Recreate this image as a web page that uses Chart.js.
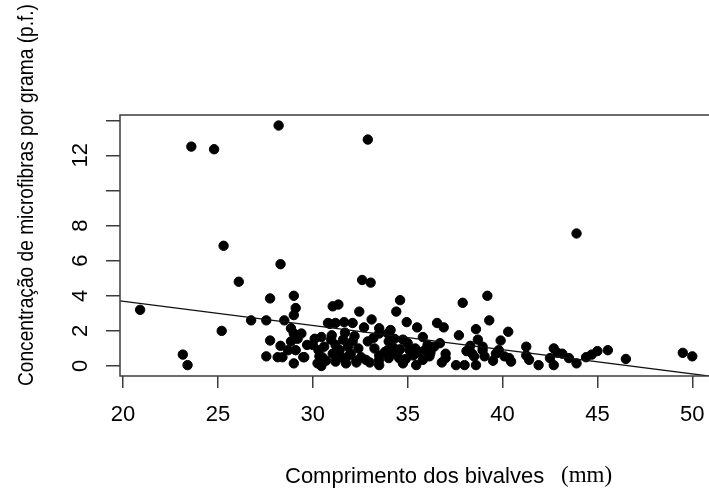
<!DOCTYPE html>
<html>
<head>
<meta charset="utf-8">
<script src="https://cdn.jsdelivr.net/npm/chart.js@4/dist/chart.umd.min.js"></script>
<style>
  html, body { margin: 0; padding: 0; background: #fff; overflow: hidden; }
  #wrap { width: 720px; height: 493px; }
</style>
</head>
<body>
<div id="wrap"><canvas id="c" width="720" height="493"></canvas></div>
<script>
// ---- data ----
const lengthMM = [
  20.9, 23.15, 23.4, 23.6, 24.8, 25.3, 25.2, 26.1, 26.75, 27.55,
  27.75, 27.75, 27.55, 28.15, 28.4, 28.2, 28.3, 28.5, 28.3, 28.85,
  28.85, 28.7, 29.0, 29.1, 29.0, 29.0, 29.2, 29.1, 29.0, 29.4,
  29.5, 30.0, 30.1, 30.45, 30.5, 30.25, 30.45, 30.6, 30.8, 31.0,
  31.05, 31.35, 31.2, 31.65, 32.1, 30.97, 31.2, 31.05, 31.2, 31.5,
  31.6, 31.75, 31.85, 32.0, 32.1, 32.4, 32.45, 32.55, 32.6, 32.7,
  32.8, 32.9, 33.05, 33.1, 33.25, 33.5, 33.5, 33.5, 33.5, 33.5,
  33.8, 33.95, 33.95, 34.0, 34.0, 34.1, 34.3, 34.3, 34.4, 34.55,
  34.6, 34.75, 34.75, 34.95, 35.1, 35.3, 35.45, 35.5, 35.6, 35.8,
  35.8, 36.05, 36.15, 36.2, 36.4, 36.55, 36.9, 37.0, 37.0, 37.55,
  37.7, 37.9, 38.0, 38.1, 38.3, 38.4, 38.5, 38.6, 38.6, 38.7,
  38.95, 38.95, 39.05, 39.2, 39.3, 39.5, 39.65, 39.8, 39.9, 40.1,
  40.3, 40.35, 40.45, 41.25, 41.25, 41.4, 41.9, 42.5, 42.7, 42.9,
  42.7, 43.15, 43.5, 43.9, 43.9, 44.4, 44.7, 45.0, 45.55, 46.5,
  49.5, 50.0, 30.35, 29.55, 30.9, 31.4, 32.3, 33.0, 34.6, 36.7,
  30.7, 31.4, 31.9, 32.3, 32.2, 30.3, 33.2, 35.0, 35.9, 36.8,
  34.9, 29.7, 31.7, 32.9, 34.2, 35.4
];
const fibersPerGram = [
  3.2, 0.65, 0.05, 12.5, 12.35, 6.85, 2.0, 4.8, 2.6, 2.6,
  3.85, 1.45, 0.55, 0.5, 0.5, 13.7, 5.8, 2.6, 1.15, 2.15,
  1.4, 0.9, 4.0, 3.3, 2.9, 1.85, 1.55, 0.9, 0.15, 1.85,
  0.5, 1.2, 1.55, 1.65, 0.5, 0.15, 0.0, 1.1, 2.45, 1.75,
  3.4, 3.5, 2.45, 2.5, 2.45, 1.5, 1.2, 0.7, 0.25, 0.5,
  1.5, 0.15, 1.1, 0.7, 1.4, 1.0, 3.1, 0.5, 4.9, 2.2,
  0.35, 12.9, 4.75, 2.65, 1.0, 2.15, 1.85, 0.6, 0.35, 0.05,
  0.8, 1.85, 0.9, 1.4, 0.45, 2.05, 1.0, 1.55, 3.1, 0.45,
  3.75, 1.5, 0.15, 2.5, 0.9, 0.6, 0.05, 2.2, 0.8, 1.65,
  0.35, 1.2, 0.55, 0.75, 1.1, 2.45, 2.2, 0.7, 0.45, 0.05,
  1.75, 3.6, 0.05, 0.85, 1.15, 0.7, 0.55, 0.05, 2.1, 1.5,
  0.9, 1.1, 0.55, 4.0, 2.6, 0.3, 0.7, 0.9, 1.45, 0.55,
  1.95, 0.45, 0.25, 1.1, 0.6, 0.35, 0.05, 0.45, 1.0, 0.75,
  0.05, 0.7, 0.45, 7.55, 0.15, 0.5, 0.65, 0.85, 0.9, 0.4,
  0.75, 0.55, 0.55, 0.5, 2.4, 0.9, 0.3, 0.2, 0.95, 1.3,
  0.3, 0.9, 0.6, 0.2, 1.7, 0.9, 1.6, 1.3, 0.9, 0.2,
  0.4, 1.2, 1.9, 1.4, 0.7, 1.0
];
const xTicks = [20, 25, 30, 35, 40, 45, 50];
const yTicks = [0, 2, 4, 6, 8, 10, 12, 14];
const yTickLabels = ['0', '2', '4', '6', '8', '', '12', ''];
const fitIntercept = 6.45;
const fitSlope = -0.138;
const xLimits = [19.84, 51.16];
const yLimits = [-0.57, 14.3];
const xTitle = 'Comprimento dos bivalves';
const xUnit = '(mm)';
const yTitle = 'Concentração de microfibras por grama (p.f.)';

const points = lengthMM.map((x, i) => ({ x: x, y: fibersPerGram[i] }));
const fitLine = xLimits.map(x => ({ x: x, y: fitIntercept + fitSlope * x }));

const SANS = '"Liberation Sans", Arial, sans-serif';
const SERIF = '"Liberation Serif", "Times New Roman", serif';
const AXIS_COLOR = '#3c3c3c';

const decor = {
  id: 'decor',
  afterDraw(chart) {
    const ctx = chart.ctx;
    const a = chart.chartArea;
    const ys = chart.scales.y;
    ctx.save();
    // box
    ctx.strokeStyle = AXIS_COLOR;
    ctx.lineWidth = 1.5;
    ctx.strokeRect(a.left, a.top, a.right - a.left, a.bottom - a.top);
    // y tick labels (rotated)
    ctx.fillStyle = '#000';
    ctx.font = '22px ' + SANS;
    ctx.textAlign = 'center';
    ctx.textBaseline = 'alphabetic';
    yTicks.forEach((v, i) => {
      const lab = yTickLabels[i];
      if (!lab) return;
      const py = ys.getPixelForValue(v);
      ctx.save();
      ctx.translate(87, py);
      ctx.rotate(-Math.PI / 2);
      ctx.fillText(lab, 0, 0);
      ctx.restore();
    });
    // y title
    ctx.save();
    ctx.translate(33, 195);
    ctx.rotate(-Math.PI / 2);
    ctx.font = '22px ' + SANS;
    ctx.fillText(yTitle, 0, 0, 382);
    ctx.restore();
    // x title
    ctx.textAlign = 'left';
    ctx.font = '22px ' + SANS;
    ctx.fillText(xTitle, 285, 483, 263);
    ctx.font = '23px ' + SERIF;
    ctx.fillText(xUnit, 561, 482);
    ctx.restore();
  }
};

new Chart(document.getElementById('c'), {
  type: 'scatter',
  data: {
    datasets: [
      {
        type: 'line',
        data: fitLine,
        borderColor: '#111',
        borderWidth: 1.3,
        pointRadius: 0,
        fill: false,
        order: 0
      },
      {
        data: points,
        backgroundColor: '#000',
        borderColor: '#000',
        borderWidth: 1,
        pointRadius: 4.7,
        order: 1
      }
    ]
  },
  options: {
    responsive: false,
    animation: false,
    devicePixelRatio: 1,
    layout: { padding: { top: 115, right: 5, left: 0, bottom: 0 } },
    plugins: { legend: { display: false }, tooltip: { enabled: false } },
    scales: {
      x: {
        type: 'linear',
        min: xLimits[0],
        max: xLimits[1],
        afterBuildTicks: s => { s.ticks = xTicks.map(v => ({ value: v })); },
        afterFit: s => { s.height = 493 - 376; },
        grid: { drawOnChartArea: false, drawTicks: true, tickLength: 12, tickColor: AXIS_COLOR, lineWidth: 1.5 },
        border: { display: false },
        ticks: {
          font: { family: SANS, size: 22 },
          color: '#000',
          padding: 14,
          maxRotation: 0,
          callback: v => String(v)
        }
      },
      y: {
        type: 'linear',
        min: yLimits[0],
        max: yLimits[1],
        afterBuildTicks: s => { s.ticks = yTicks.map(v => ({ value: v })); },
        afterFit: s => { s.width = 120; },
        grid: { drawOnChartArea: false, drawTicks: true, tickLength: 14, tickColor: AXIS_COLOR, lineWidth: 1.5 },
        border: { display: false },
        ticks: { display: false }
      }
    }
  },
  plugins: [decor]
});
</script>
</body>
</html>
